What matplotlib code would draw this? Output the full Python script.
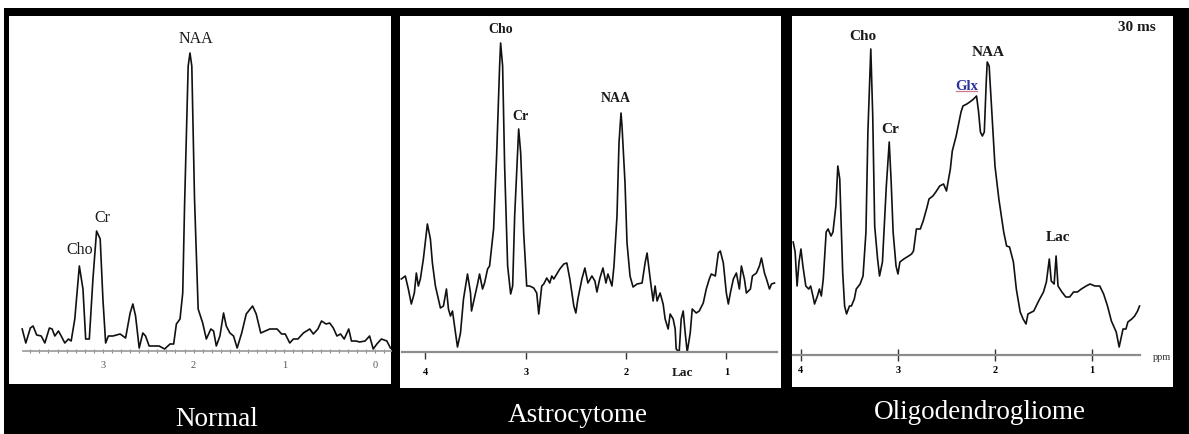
import matplotlib
matplotlib.use("Agg")
import matplotlib.pyplot as plt
from matplotlib.lines import Line2D
from matplotlib.ticker import MultipleLocator, FixedLocator

plt.rcParams["font.family"] = ["Liberation Serif", "DejaVu Serif"]

# ---------------------------------------------------------------- data
panel_titles = ["Normal", "Astrocytome", "Oligodendrogliome"]

normal_ppm = [3.89, 3.85, 3.80, 3.77, 3.73, 3.68, 3.64, 3.59, 3.56, 3.53, 3.49, 3.46,
              3.42, 3.38, 3.35, 3.31, 3.26, 3.22, 3.19, 3.15, 3.11, 3.07, 3.03, 3.00,
              2.97, 2.94, 2.89, 2.81, 2.75, 2.70, 2.67, 2.64, 2.60, 2.56, 2.53, 2.49,
              2.44, 2.38, 2.32, 2.26, 2.22, 2.19, 2.15, 2.12, 2.10, 2.06, 2.04, 2.02,
              1.99, 1.95, 1.90, 1.86, 1.81, 1.78, 1.75, 1.71, 1.67, 1.64, 1.60, 1.56,
              1.52, 1.47, 1.42, 1.35, 1.31, 1.26, 1.21, 1.16, 1.08, 1.03, 0.99, 0.94,
              0.90, 0.85, 0.79, 0.72, 0.68, 0.63, 0.59, 0.54, 0.50, 0.46, 0.42, 0.38,
              0.34, 0.29, 0.26, 0.21, 0.17, 0.11, 0.06, 0.02, -0.02, -0.07, -0.13, -0.17]
normal_amp = [22, 8, 23, 25, 16, 15, 8, 23, 22, 15, 20, 15,
              8, 12, 10, 32, 85, 62, 12, 12, 72, 120, 112, 52,
              8, 15, 15, 17, 13, 38, 47, 35, 3, 18, 15, 5,
              5, 5, 2, 7, 7, 27, 32, 58, 145, 285, 298, 285,
              152, 42, 28, 12, 22, 20, 5, 15, 38, 25, 18, 15,
              3, 18, 37, 45, 37, 18, 20, 22, 22, 17, 17, 8,
              12, 12, 18, 22, 17, 22, 30, 27, 28, 23, 15, 17,
              12, 22, 10, 10, 9, 10, 15, 2, 7, 12, 10, 3]

astro_ppm = [4.24, 4.20, 4.17, 4.14, 4.11, 4.09, 4.07, 4.05, 4.02, 3.98, 3.95, 3.93,
             3.90, 3.87, 3.85, 3.82, 3.79, 3.77, 3.75, 3.73, 3.70, 3.68, 3.65, 3.62,
             3.58, 3.55, 3.54, 3.50, 3.48, 3.46, 3.43, 3.41, 3.38, 3.36, 3.32, 3.29,
             3.26, 3.25, 3.23, 3.21, 3.18, 3.15, 3.13, 3.11, 3.07, 3.05, 3.02, 2.99,
             2.96, 2.92, 2.89, 2.87, 2.84, 2.82, 2.79, 2.76, 2.74, 2.72, 2.69, 2.66,
             2.62, 2.59, 2.56, 2.52, 2.50, 2.48, 2.44, 2.41, 2.38, 2.34, 2.31, 2.29,
             2.26, 2.23, 2.20, 2.18, 2.14, 2.12, 2.09, 2.07, 2.05, 2.04, 2.01, 1.99,
             1.96, 1.93, 1.89, 1.84, 1.81, 1.79, 1.76, 1.73, 1.71, 1.69, 1.66, 1.63,
             1.61, 1.58, 1.56, 1.53, 1.51, 1.50, 1.47, 1.45, 1.43, 1.41, 1.39, 1.36,
             1.34, 1.30, 1.27, 1.23, 1.20, 1.17, 1.15, 1.11, 1.08, 1.06, 1.03, 1.00,
             0.98, 0.96, 0.93, 0.90, 0.87, 0.85, 0.82, 0.80, 0.76, 0.74, 0.70, 0.67,
             0.65, 0.62, 0.60, 0.57, 0.55, 0.52]
astro_amp = [73, 76, 63, 48, 59, 79, 66, 73, 93, 128, 113, 89,
             66, 53, 44, 46, 63, 43, 36, 41, 19, 5, 19, 53,
             78, 59, 41, 59, 68, 78, 63, 69, 83, 86, 123, 196,
             286, 309, 286, 186, 86, 58, 66, 136, 223, 199, 119, 66,
             66, 64, 59, 38, 66, 68, 74, 69, 76, 73, 78, 83,
             88, 89, 73, 46, 39, 53, 73, 84, 69, 76, 71, 60,
             74, 84, 69, 78, 66, 86, 136, 209, 239, 226, 169, 109,
             76, 65, 68, 69, 89, 99, 74, 51, 66, 51, 59, 48,
             33, 23, 38, 33, 23, 3, 0, 33, 41, 19, 0, 19,
             43, 39, 41, 49, 63, 73, 78, 76, 99, 101, 89, 59,
             48, 59, 73, 79, 63, 86, 73, 59, 63, 76, 79, 86,
             94, 79, 73, 63, 68, 69]

oligo_ppm = [4.08, 4.06, 4.04, 4.02, 4.00, 3.98, 3.95, 3.92, 3.90, 3.87, 3.86, 3.83,
             3.81, 3.79, 3.77, 3.74, 3.72, 3.69, 3.67, 3.64, 3.62, 3.60, 3.57, 3.55,
             3.53, 3.50, 3.48, 3.45, 3.43, 3.39, 3.36, 3.33, 3.31, 3.28, 3.26, 3.24,
             3.21, 3.19, 3.16, 3.12, 3.09, 3.07, 3.05, 3.02, 3.00, 2.98, 2.94, 2.89,
             2.86, 2.84, 2.81, 2.77, 2.74, 2.70, 2.68, 2.64, 2.61, 2.57, 2.53, 2.50,
             2.46, 2.44, 2.40, 2.35, 2.33, 2.29, 2.26, 2.22, 2.19, 2.17, 2.15, 2.13,
             2.11, 2.09, 2.08, 2.06, 2.03, 2.00, 1.96, 1.91, 1.88, 1.85, 1.81, 1.78,
             1.74, 1.71, 1.68, 1.66, 1.60, 1.55, 1.50, 1.47, 1.44, 1.42, 1.39, 1.37,
             1.35, 1.31, 1.27, 1.23, 1.19, 1.15, 1.11, 1.06, 1.02, 0.97, 0.92, 0.88,
             0.84, 0.80, 0.75, 0.72, 0.68, 0.65, 0.63, 0.59, 0.56, 0.53, 0.51]
oligo_amp = [113, 103, 69, 93, 106, 89, 69, 66, 69, 56, 51, 59,
             66, 59, 76, 123, 126, 119, 123, 149, 189, 176, 83, 49,
             41, 49, 49, 56, 66, 71, 79, 123, 223, 306, 239, 129,
             96, 79, 93, 169, 213, 173, 123, 89, 81, 93, 96, 99,
             101, 104, 126, 126, 134, 148, 156, 159, 163, 169, 171, 164,
             186, 204, 219, 243, 249, 251, 253, 256, 259, 244, 223, 219,
             223, 273, 293, 289, 239, 189, 156, 123, 109, 108, 93, 66,
             43, 36, 31, 41, 44, 54, 63, 73, 96, 74, 71, 99,
             69, 63, 58, 58, 63, 63, 66, 69, 71, 69, 69, 61,
             49, 34, 23, 8, 26, 26, 33, 36, 39, 44, 49]

# peak annotations: (text, ppm, amplitude)
normal_peaks = [("NAA", 1.98, 313), ("Cr", 3.01, 134), ("Cho", 3.26, 102)]
astro_peaks = [("Cho", 3.25, 323), ("Cr", 3.05, 236), ("NAA", 2.10, 254)]
oligo_peaks = [("Cho", 3.36, 319), ("Cr", 3.08, 226), ("NAA", 2.07, 303),
               ("Lac", 1.35, 118)]

# ---------------------------------------------------------------- layout
W, H = 1189, 435
fig = plt.figure(figsize=(W / 100, H / 100), dpi=100, facecolor="black")


def box(x0, y0, x1, y1):
    return [x0 / W, 1 - y1 / H, (x1 - x0) / W, (y1 - y0) / H]


# thin white margins along the top and left border
fig.add_artist(plt.Rectangle((0, 1 - 9 / H), 1, 9 / H, transform=fig.transFigure,
                             facecolor="white", edgecolor="none", zorder=-1))
fig.add_artist(plt.Rectangle((0, 0), 4 / W, 1, transform=fig.transFigure,
                             facecolor="white", edgecolor="none", zorder=-1))


def panel(rect):
    ax = fig.add_axes(box(*rect))
    ax.set_facecolor("white")
    ax.set_xticks([])
    ax.set_yticks([])
    for s in ax.spines.values():
        s.set_visible(False)
    return ax


def data_axes(rect, xlim, top):
    ax = fig.add_axes(box(*rect))
    ax.patch.set_alpha(0)
    ax.set_xlim(*xlim)
    ax.set_ylim(0, top)
    ax.set_yticks([])
    for side in ("top", "left", "right"):
        ax.spines[side].set_visible(False)
    return ax


line_kw = dict(color="#111111", lw=1.2)

# ---------------- Normal
p1 = panel((9, 17, 391, 385))
a1 = data_axes((23, 17, 391, 352), (3.881, -0.176), 335)
a1.plot(normal_ppm, normal_amp, **line_kw, clip_on=False)
a1.spines["bottom"].set_color("#a0a0a0")
a1.spines["bottom"].set_linewidth(1.3)
a1.xaxis.set_major_locator(FixedLocator([3, 2, 1, 0]))
a1.xaxis.set_minor_locator(MultipleLocator(0.1))
a1.tick_params(axis="x", which="both", direction="inout", length=3.0, width=0.8,
               color="#8a8a8a", labelsize=7.5, labelcolor="#555555", pad=5)
for txt, x, y in normal_peaks:
    a1.text(x, y, txt, ha="center", va="center", fontsize=11.5, color="#1a1a1a")

# ---------------- Astrocytome
p2 = panel((400, 17, 781, 389))
a2 = data_axes((402, 17, 777, 353), (4.233, 0.495), 336)
a2.plot(astro_ppm, astro_amp, **line_kw, clip_on=False)
a2.spines["bottom"].set_color("#8c8c8c")
a2.spines["bottom"].set_linewidth(1.6)
a2.xaxis.set_major_locator(FixedLocator([4, 3, 2, 1]))
a2.tick_params(axis="x", direction="out", length=5, width=1.0, color="#333333",
               labelsize=7.5, pad=6)
for lab in a2.get_xticklabels():
    lab.set_fontweight("bold")
for txt, x, y in astro_peaks:
    a2.text(x, y, txt, ha="center", va="center", fontsize=10, fontweight="bold",
            color="#1a1a1a")
a2.text(1.44, -20, "Lac", ha="center", va="center", fontsize=9.5,
        fontweight="bold", color="#1a1a1a", clip_on=False)

# ---------------- Oligodendrogliome
p3 = panel((792, 17, 1173, 388))
a3 = data_axes((793, 17, 1140, 356), (4.082, 0.505), 339)
a3.plot(oligo_ppm, oligo_amp, **line_kw, clip_on=False)
a3.spines["bottom"].set_color("#8c8c8c")
a3.spines["bottom"].set_linewidth(1.6)
a3.xaxis.set_major_locator(FixedLocator([4, 3, 2, 1]))
a3.tick_params(axis="x", direction="inout", length=8.5, width=1.0, color="#333333",
               labelsize=7.5, pad=3)
for lab in a3.get_xticklabels():
    lab.set_fontweight("bold")
for txt, x, y in oligo_peaks:
    a3.text(x, y, txt, ha="center", va="center", fontsize=11, fontweight="bold",
            color="#1a1a1a")
glx = a3.text(2.29, 269, "Glx", ha="center", va="center", fontsize=10.5,
              fontweight="bold", color="#2b2f9a")
a3.text(0.536, 328, "30 ms", ha="center", va="center", fontsize=11,
        fontweight="bold", color="#1a1a1a")
p3.text((1153 - 792) / 381, 1 - (357 - 17) / 371, "ppm", transform=p3.transAxes,
        ha="left", va="center", fontsize=7.5, color="#333333", clip_on=True)

# ---------------- titles under each panel
for txt, xc, yb in zip(panel_titles, [217, 578, 980], [426, 422, 419]):
    fig.text(xc / W, 1 - yb / H, txt, ha="center", va="baseline", fontsize=19.5,
             color="white")

# underline the Glx label
fig.canvas.draw()
bb = glx.get_window_extent()
fig.add_artist(Line2D([bb.x0 + 1, bb.x1 - 1], [bb.y0 + 1.5, bb.y0 + 1.5],
                      transform=None, color="#c87a8a", lw=0.9))

fig.savefig("out.png", dpi=100, facecolor="black")
